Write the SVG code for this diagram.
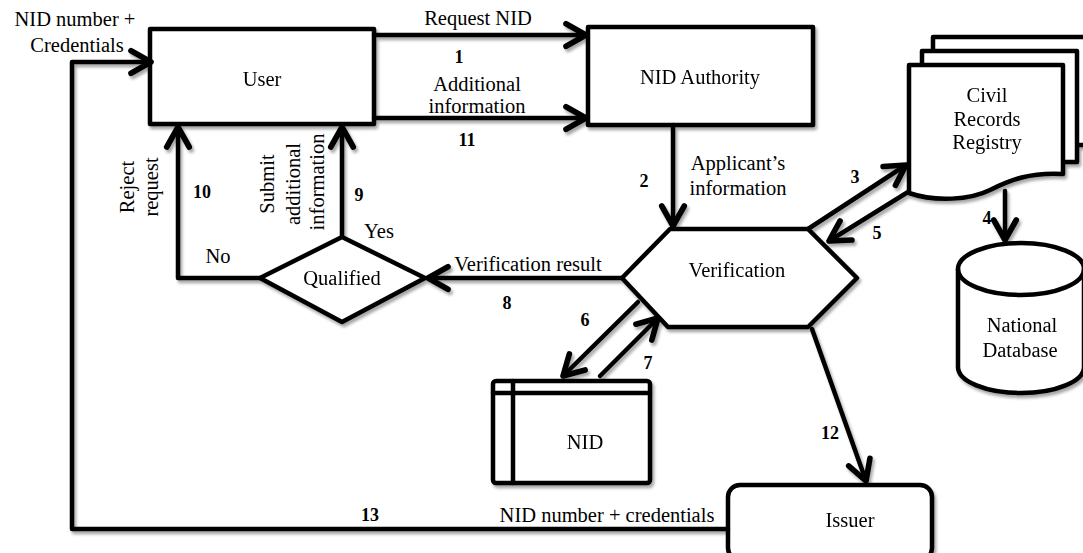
<svg xmlns="http://www.w3.org/2000/svg" width="1083" height="553" viewBox="0 0 1083 553">
<style>
.s{fill:#fff;stroke:#000;stroke-width:4.5;stroke-linejoin:round}
.c{fill:none;stroke:#000;stroke-width:4.5;stroke-linejoin:round;stroke-linecap:round}
.t{font-family:"Liberation Serif","Times New Roman",serif;font-size:20.5px;fill:#000;text-anchor:middle}
.n{font-family:"Liberation Serif","Times New Roman",serif;font-size:18px;font-weight:bold;fill:#000;text-anchor:middle}
</style>
<defs>
<filter id="sh" x="-5%" y="-5%" width="110%" height="110%">
<feDropShadow dx="2" dy="3" stdDeviation="1.5" flood-color="#000" flood-opacity="0.35"/>
</filter>
<marker id="ar" markerUnits="userSpaceOnUse" markerWidth="30" markerHeight="30" viewBox="-20 -12 24 24" refX="0" refY="0" orient="auto">
<path d="M-16,-9 L0,0 L-16,9" fill="none" stroke="#000" stroke-width="4.5" stroke-linecap="round" stroke-linejoin="round"/>
</marker>
</defs>
<rect width="1083" height="553" fill="#fff"/>
<g filter="url(#sh)">
<g id="user"><rect class="s" x="150" y="29" width="224" height="95"/><text class="t" x="262" y="86">User</text></g>
<g id="nid-authority"><rect class="s" x="588" y="27" width="225" height="98"/><text class="t" x="700" y="84">NID Authority</text></g>
<g id="civil-records">
<rect class="s" x="933" y="37" width="160" height="108"/>
<rect class="s" x="922" y="51" width="155" height="111"/>
<path class="s" d="M909,65 H1063 V174 C1030,172 1010,180 990,190 C970,200 935,202 909,193 Z"/>
<text class="t" x="987" y="102">Civil</text><text class="t" x="987" y="126">Records</text><text class="t" x="987" y="149">Registry</text>
</g>
<g id="national-db">
<path class="s" d="M958,269 A63,26 0 0 1 1084,269 V367 A63,26 0 0 1 958,367 Z"/>
<path class="c" d="M958,269 A63,26 0 0 0 1084,269"/>
<text class="t" x="1022" y="332">National</text><text class="t" x="1020" y="357">Database</text>
</g>
<g id="verification"><path class="s" d="M622,278 L670,229 H808 L857,278 L808,327 H668 Z"/><text class="t" x="737" y="277">Verification</text></g>
<g id="qualified"><path class="s" d="M260,278 L342,237 L425,278 L342,322 Z"/><text class="t" x="342" y="285">Qualified</text></g>
<g id="nid-store">
<rect class="s" x="493" y="381" width="157" height="102" rx="3"/>
<path class="c" d="M493,393 H650 M513,381 V483"/>
<text class="t" x="585" y="449">NID</text>
</g>
<g id="issuer"><rect class="s" x="728" y="485" width="204" height="75" rx="12"/><text class="t" x="850" y="527">Issuer</text></g>
<g id="connectors">
<path class="c" d="M374,35 H586" marker-end="url(#ar)"/>
<path class="c" d="M374,118 H586" marker-end="url(#ar)"/>
<path class="c" d="M673,125 V226" marker-end="url(#ar)"/>
<path class="c" d="M808,229 L906,165" marker-end="url(#ar)"/>
<path class="c" d="M908,192 L829,241" marker-end="url(#ar)"/>
<path class="c" d="M1005,191 V240" marker-end="url(#ar)"/>
<path class="c" d="M622,278 H428" marker-end="url(#ar)"/>
<path class="c" d="M342,237 V127" marker-end="url(#ar)"/>
<path class="c" d="M260,278 H178 V127" marker-end="url(#ar)"/>
<path class="c" d="M638,302 L563,376" marker-end="url(#ar)"/>
<path class="c" d="M600,376 L658,318" marker-end="url(#ar)"/>
<path class="c" d="M812,329 L866,481" marker-end="url(#ar)"/>
<path class="c" d="M728,529 H72 V62 H151" marker-end="url(#ar)"/>
</g>
</g>
<g id="labels">
<text class="t" x="75" y="26">NID number +</text>
<text class="t" x="77" y="52">Credentials</text>
<text class="t" x="478" y="25">Request NID</text>
<text class="t" x="477" y="91">Additional</text>
<text class="t" x="477" y="113">information</text>
<text class="t" x="738" y="170">Applicant’s</text>
<text class="t" x="738" y="195">information</text>
<text class="t" x="528" y="271">Verification result</text>
<text class="t" x="218" y="263">No</text>
<text class="t" x="379" y="238">Yes</text>
<text class="t" transform="translate(134,187) rotate(-90)">Reject</text>
<text class="t" transform="translate(158,187) rotate(-90)">request</text>
<text class="t" transform="translate(274,184) rotate(-90)">Submit</text>
<text class="t" transform="translate(300,184) rotate(-90)">additional</text>
<text class="t" transform="translate(324,182) rotate(-90)">information</text>
<text class="t" x="607" y="522">NID number + credentials</text>
<text class="n" x="459" y="63">1</text>
<text class="n" x="467" y="146">11</text>
<text class="n" x="644" y="187">2</text>
<text class="n" x="855" y="183">3</text>
<text class="n" x="987" y="224">4</text>
<text class="n" x="877" y="239">5</text>
<text class="n" x="585" y="326">6</text>
<text class="n" x="648" y="369">7</text>
<text class="n" x="507" y="309">8</text>
<text class="n" x="359" y="201">9</text>
<text class="n" x="202" y="198">10</text>
<text class="n" x="830" y="439">12</text>
<text class="n" x="370" y="521">13</text>
</g>
</svg>
